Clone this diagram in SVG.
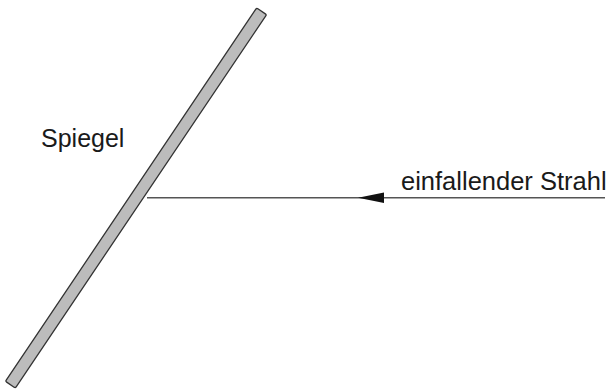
<svg xmlns="http://www.w3.org/2000/svg" width="611" height="391" viewBox="0 0 611 391">
<style>
.lbl{font-family:"Liberation Sans",Arial,Helvetica,sans-serif;font-size:25px;fill:#1a1a1a}
.ray{stroke:#555;stroke-width:1.4;fill:none}
</style>
<defs>
<marker id="ah" markerUnits="userSpaceOnUse" markerWidth="26" markerHeight="12" refX="0" refY="6" orient="auto" viewBox="0 0 26 12">
<path d="M0,6 L26,0.5 L26,11.5 Z" fill="#111"/>
</marker>
</defs>
<rect width="611" height="391" fill="#fff"/>
<g id="mirror">
<rect x="-89" y="192" width="450" height="12" rx="1.5" transform="rotate(-56.06 136 198)" fill="#bcbcbc" stroke="#333" stroke-width="1.3"/>
<text class="lbl" x="41" y="147">Spiegel</text>
</g>
<g id="connectors">
<line class="ray" x1="605" y1="197.7" x2="147" y2="197.7"/>
<path d="M358,197.7 L384,192.5 L384,203 Z" fill="#111"/>
</g>
<g id="ray-label">
<text class="lbl" x="401" y="190" style="font-size:25.5px">einfallender Strahl</text>
</g>
</svg>
